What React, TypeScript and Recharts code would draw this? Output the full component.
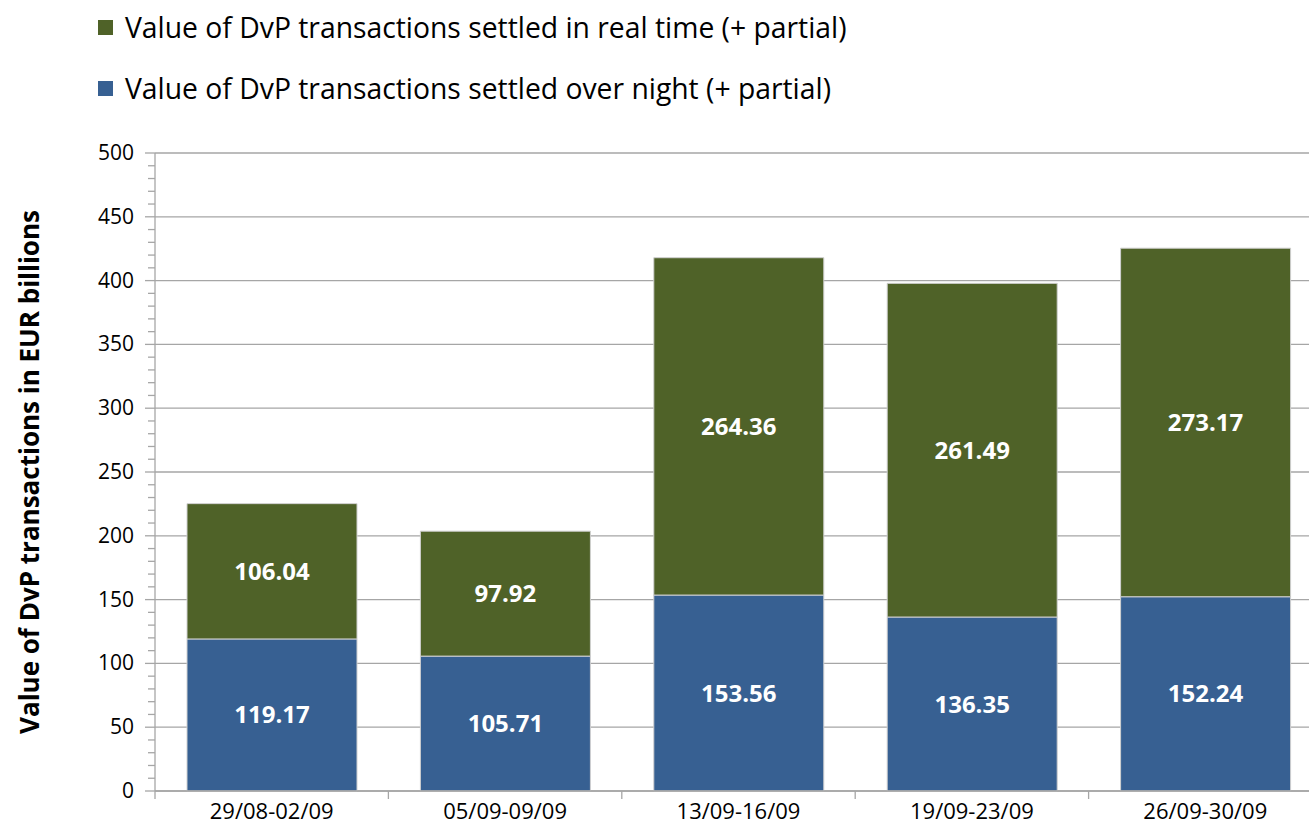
import { BarChart, Bar, XAxis, YAxis, CartesianGrid, LabelList } from 'recharts';

const periods = ['29/08-02/09', '05/09-09/09', '13/09-16/09', '19/09-23/09', '26/09-30/09'];
const overNight = [119.17, 105.71, 153.56, 136.35, 152.24];
const realTime = [106.04, 97.92, 264.36, 261.49, 273.17];
const majorTicks = [0, 50, 100, 150, 200, 250, 300, 350, 400, 450, 500];
const minorStep = 10;

const OVER_NIGHT_NAME = 'Value of DvP transactions settled over night (+ partial)';
const REAL_TIME_NAME = 'Value of DvP transactions settled in real time (+ partial)';
const GREEN = '#4F6228';
const BLUE = '#376092';
const FONT = '"Open Sans", sans-serif';

const data = periods.map((p, i) => ({
  period: p,
  overNight: overNight[i],
  realTime: realTime[i],
}));

const allTicks: number[] = [];
for (let v = 0; v <= 500; v += minorStep) allTicks.push(v);

const CHART_W = 1322;
const CHART_H = 831;
const PLOT_LEFT = 155;
const BAND = (CHART_W - PLOT_LEFT) / periods.length;

const YTick = (props: any) => {
  const { x, y, payload } = props;
  const major = payload.value % 50 === 0;
  return (
    <g>
      <line x1={PLOT_LEFT - (major ? 10 : 7)} x2={PLOT_LEFT} y1={y} y2={y} stroke="#a6a6a6" strokeWidth={1.3} />
      {major && (
        <text x={x - 13} y={y} dy={7} textAnchor="end" fontSize={21} fontFamily={FONT} fill="#000">
          {payload.value}
        </text>
      )}
    </g>
  );
};

const XTick = (props: any) => {
  const { x, y, payload, index } = props;
  return (
    <g>
      <line x1={x - BAND / 2} x2={x - BAND / 2} y1={y - 8} y2={y} stroke="#a6a6a6" strokeWidth={1.3} />
      {index === periods.length - 1 && (
        <line x1={x + BAND / 2} x2={x + BAND / 2} y1={y - 8} y2={y} stroke="#a6a6a6" strokeWidth={1.3} />
      )}
      <text x={x} y={y} dy={20} textAnchor="middle" fontSize={22} fontFamily={FONT} fill="#000">
        {payload.value}
      </text>
    </g>
  );
};

const legendItems = [
  { name: REAL_TIME_NAME, color: GREEN },
  { name: OVER_NIGHT_NAME, color: BLUE },
];

const YLabel = (props: any) => {
  const { viewBox } = props;
  const cy = viewBox.y + viewBox.height / 2;
  return (
    <text
      x={29}
      y={cy}
      transform={`rotate(-90, 29, ${cy})`}
      textAnchor="middle"
      dominantBaseline="central"
      fontSize={26}
      fontWeight="bold"
      fontFamily={FONT}
      fill="#000"
    >
      Value of DvP transactions in EUR billions
    </text>
  );
};

export default function App() {
  return (
    <div style={{ position: 'absolute', left: 0, top: 0, width: 1309, height: 831, overflow: 'hidden', background: '#fff' }}>
      <div style={{ position: 'absolute', left: 98, top: 8, fontFamily: FONT, fontSize: 28.3, color: '#000', zIndex: 1 }}>
        {legendItems.map((it, i) => (
          <div key={it.name} style={{ display: 'flex', alignItems: 'center', height: 38, marginTop: i === 0 ? 0 : 23 }}>
            <span style={{ display: 'inline-block', width: 15, height: 15, background: it.color, marginRight: 12 }} />
            <span style={{ whiteSpace: 'nowrap' }}>{it.name}</span>
          </div>
        ))}
      </div>
      <BarChart
        width={CHART_W}
        height={CHART_H}
        data={data}
        margin={{ top: 153, right: 0, bottom: 0, left: 0 }}
      >
        <CartesianGrid vertical={false} horizontalValues={majorTicks} stroke="#a6a6a6" strokeWidth={1.3} />
        <XAxis
          dataKey="period"
          height={40}
          axisLine={{ stroke: '#a6a6a6', strokeWidth: 1.3 }}
          tickLine={false}
          tick={<XTick />}
          interval={0}
        />
        <YAxis
          width={PLOT_LEFT}
          domain={[0, 500]}
          ticks={allTicks}
          interval={0}
          axisLine={{ stroke: '#a6a6a6', strokeWidth: 1.3 }}
          tickLine={false}
          tick={<YTick />}
          label={<YLabel />}
        />
        <Bar dataKey="overNight" name={OVER_NIGHT_NAME} stackId="a" fill={BLUE} stroke="#d0d0d0" strokeWidth={1} barSize={170} isAnimationActive={false}>
          <LabelList dataKey="overNight" position="center" fill="#fff" fontSize={24} fontWeight="bold" fontFamily={FONT} formatter={(v: any) => Number(v).toFixed(2)} />
        </Bar>
        <Bar dataKey="realTime" name={REAL_TIME_NAME} stackId="a" fill={GREEN} stroke="#d0d0d0" strokeWidth={1} barSize={170} isAnimationActive={false}>
          <LabelList dataKey="realTime" position="center" fill="#fff" fontSize={24} fontWeight="bold" fontFamily={FONT} formatter={(v: any) => Number(v).toFixed(2)} />
        </Bar>
      </BarChart>
    </div>
  );
}
